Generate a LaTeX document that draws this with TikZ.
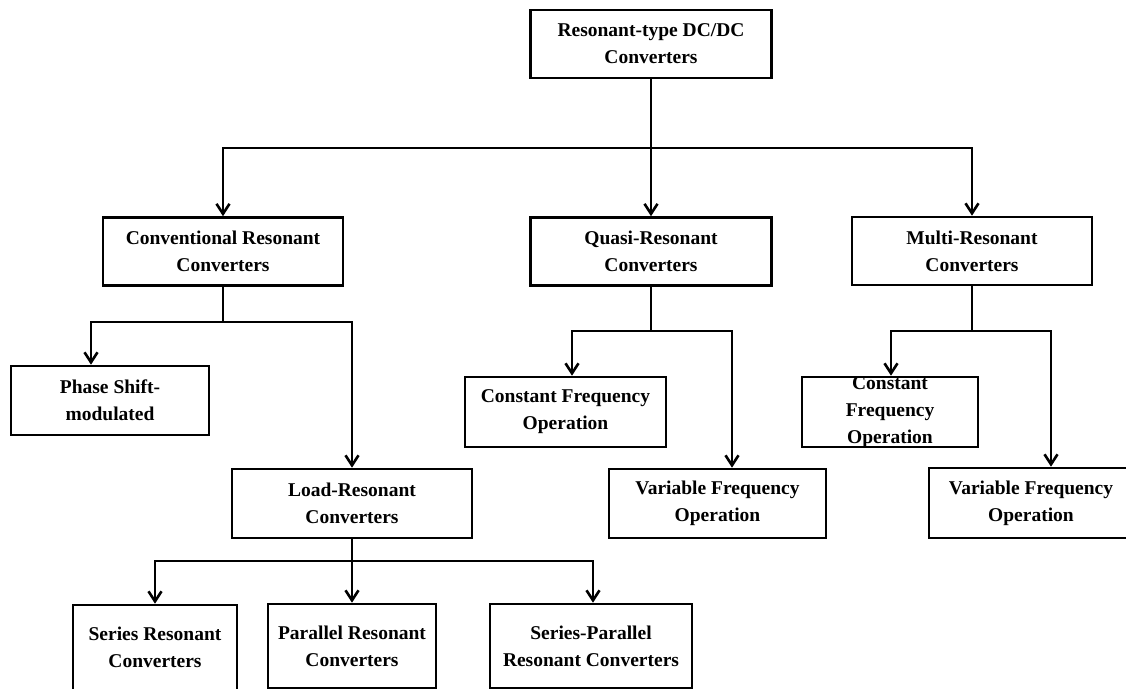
\documentclass[tikz,border=0pt]{standalone}
\usepackage{fontspec}
\setmainfont{Liberation Serif}
\usetikzlibrary{arrows.meta}

\begin{document}
\begin{tikzpicture}[x=1pt,y=1pt,
  box/.style={draw,line width=2.6pt,align=center,inner sep=0pt,
    font=\bfseries\fontsize{19.5}{27}\selectfont},
  link/.style={line width=2.6pt},
  arr/.style={link,-{Straight Barb[length=10pt,width=13pt]}}]
  \useasboundingbox (0,0) rectangle (1126,-688);
  \clip (0,0) rectangle (1126,-688);

  % Top level and the three families
  \node[box,minimum width=241pt,minimum height=68pt] (root) at (651,-44) {Resonant-type DC/DC\\Converters};
  \node[box,minimum width=240pt,minimum height=68pt] (conv) at (223,-251.5) {Conventional Resonant\\Converters};
  \node[box,minimum width=241pt,minimum height=68pt] (quasi) at (651,-251.5) {Quasi-Resonant\\Converters};
  \node[box,minimum width=240pt,minimum height=68pt] (multi) at (972,-251) {Multi-Resonant\\Converters};

  % Conventional branch
  \node[box,minimum width=198pt,minimum height=69pt] (phase) at (110,-400.5) {Phase Shift-\\modulated};
  \node[box,minimum width=240pt,minimum height=69pt] (load) at (352,-503.5) {Load-Resonant\\Converters};
  \node[box,minimum width=164pt,minimum height=85pt] (series) at (155,-647.5) {Series Resonant\\Converters};
  \node[box,minimum width=168pt,minimum height=84pt] (parallel) at (352,-646) {Parallel Resonant\\Converters};
  \node[box,minimum width=202pt,minimum height=84pt] (serpar) at (591,-646) {Series-Parallel\\Resonant Converters};

  % Quasi-resonant branch
  \node[box,minimum width=201pt,minimum height=70pt] (qconst) at (565.5,-412) {Constant Frequency\\Operation};
  \node[box,minimum width=217pt,minimum height=69pt] (qvar) at (717.5,-503.5) {Variable Frequency\\Operation};

  % Multi-resonant branch
  \node[box,inner ysep=-6pt,minimum width=176pt,minimum height=70pt] (mconst) at (890,-412) {Constant\\Frequency\\Operation};
  \node[box,minimum width=204pt,minimum height=70pt] (mvar) at (1031,-503) {Variable Frequency\\Operation};

  % bus lines
  \coordinate (topbus) at (651,-148);
  \coordinate (convbus) at (223,-322);
  \coordinate (quasibus) at (651,-331);
  \coordinate (multibus) at (972,-331);
  \coordinate (loadbus) at (352,-561);

  \draw[link] (root.south) -- (topbus);
  \draw[arr] (topbus) -| (conv.north);
  \draw[arr] (topbus) -- (quasi.north);
  \draw[arr] (topbus) -| (multi.north);

  \draw[link] (conv.south) -- (convbus);
  \draw[arr] (convbus) -| ([xshift=-19pt]phase.north);
  \draw[arr] (convbus) -| (load.north);

  \draw[link] (load.south) -- (loadbus);
  \draw[arr] (loadbus) -| (series.north);
  \draw[arr] (loadbus) -- (parallel.north);
  \draw[arr] (loadbus) -| ([xshift=2pt]serpar.north);

  \draw[link] (quasi.south) -- (quasibus);
  \draw[arr] (quasibus) -| ([xshift=6.5pt]qconst.north);
  \draw[arr] (quasibus) -| ([xshift=14.5pt]qvar.north);

  \draw[link] (multi.south) -- (multibus);
  \draw[arr] (multibus) -| ([xshift=1pt]mconst.north);
  \draw[arr] (multibus) -| ([xshift=20pt]mvar.north);
\end{tikzpicture}
\end{document}
